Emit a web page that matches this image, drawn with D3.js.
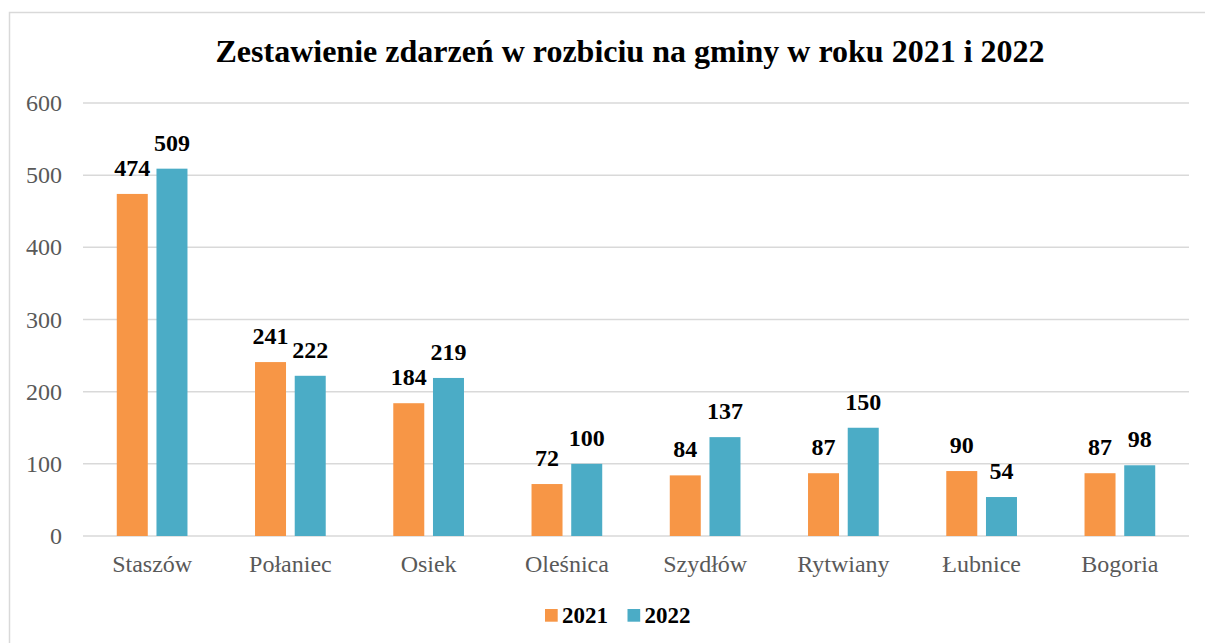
<!DOCTYPE html>
<html>
<head>
<meta charset="utf-8">
<script src="https://cdn.jsdelivr.net/npm/d3@7"></script>
<style>
  body { margin: 0; background: #fff; }
  svg { display: block; }
  text { font-family: 'Liberation Serif', 'Times New Roman', serif; }
</style>
</head>
<body>
<svg id="chart" width="1205" height="643"></svg>
<script>
const categories = ['Staszów', 'Połaniec', 'Osiek', 'Oleśnica', 'Szydłów', 'Rytwiany', 'Łubnice', 'Bogoria'];
const seriesNames = ['2021', '2022'];
const values2021 = [474, 241, 184, 72, 84, 87, 90, 87];
const values2022 = [509, 222, 219, 100, 137, 150, 54, 98];
const yTicks = [0, 100, 200, 300, 400, 500, 600];
const colors = ['#F79646', '#4BACC6'];
const titleText = 'Zestawienie zdarzeń w rozbiciu na gminy w roku 2021 i 2022';

const svg = d3.select('#chart');

// chart border
svg.append('rect')
    .attr('x', 9.5).attr('y', 12.5)
    .attr('width', 1240).attr('height', 700)
    .attr('fill', 'none')
    .attr('stroke', '#D9D9D9')
    .attr('stroke-width', 1.5);

const margin = { left: 83, right: 1189, top: 103, bottom: 536 };

const x = d3.scaleBand()
    .domain(categories)
    .range([margin.left, margin.right]);

const y = d3.scaleLinear()
    .domain([0, 600])
    .range([margin.bottom, margin.top]);

const barW = 31;
const inner = d3.scaleBand()
    .domain(seriesNames)
    .range([-39.7, 39.7]);

// gridlines
svg.append('g')
    .selectAll('line')
    .data(yTicks)
    .join('line')
    .attr('x1', margin.left).attr('x2', margin.right)
    .attr('y1', d => y(d)).attr('y2', d => y(d))
    .attr('stroke', '#D9D9D9')
    .attr('stroke-width', 1.5);

// y tick labels
svg.append('g')
    .selectAll('text')
    .data(yTicks)
    .join('text')
    .attr('x', 62)
    .attr('y', d => y(d) + 8)
    .attr('text-anchor', 'end')
    .style('font-size', '24px')
    .style('fill', '#595959')
    .text(d => d);

// category labels
svg.append('g')
    .selectAll('text')
    .data(categories)
    .join('text')
    .attr('x', d => x(d) + x.bandwidth() / 2)
    .attr('y', 572)
    .attr('text-anchor', 'middle')
    .style('font-size', '24px')
    .style('fill', '#595959')
    .text(d => d);

const rows = [];
categories.forEach((c, i) => {
    rows.push({ cat: c, s: '2021', v: values2021[i], color: colors[0] });
    rows.push({ cat: c, s: '2022', v: values2022[i], color: colors[1] });
});
const cx = d => x(d.cat) + x.bandwidth() / 2 + inner(d.s) + inner.bandwidth() / 2;

svg.append('g')
    .selectAll('rect')
    .data(rows)
    .join('rect')
    .attr('x', d => cx(d) - barW / 2)
    .attr('y', d => y(d.v))
    .attr('width', barW)
    .attr('height', d => y(0) - y(d.v))
    .attr('fill', d => d.color);

svg.append('g')
    .selectAll('text')
    .data(rows)
    .join('text')
    .attr('x', d => cx(d))
    .attr('y', d => y(d.v) - 18)
    .attr('text-anchor', 'middle')
    .style('font-size', '24px')
    .style('font-weight', 'bold')
    .style('fill', '#000')
    .text(d => d.v);

// title
svg.append('text')
    .attr('x', 630)
    .attr('y', 62)
    .attr('text-anchor', 'middle')
    .style('font-size', '32px')
    .style('font-weight', 'bold')
    .style('fill', '#000')
    .text(titleText);

// legend
const legendX = [545, 627.5];
const legend = svg.append('g')
    .selectAll('g')
    .data(seriesNames)
    .join('g')
    .attr('transform', (d, i) => `translate(${legendX[i]},609)`);
legend.append('rect')
    .attr('width', 12.7).attr('height', 12.7)
    .attr('fill', (d, i) => colors[i]);
legend.append('text')
    .attr('x', 17)
    .attr('y', 14.3)
    .style('font-size', '23px')
    .style('font-weight', 'bold')
    .style('fill', '#000')
    .text(d => d);
</script>
</body>
</html>
